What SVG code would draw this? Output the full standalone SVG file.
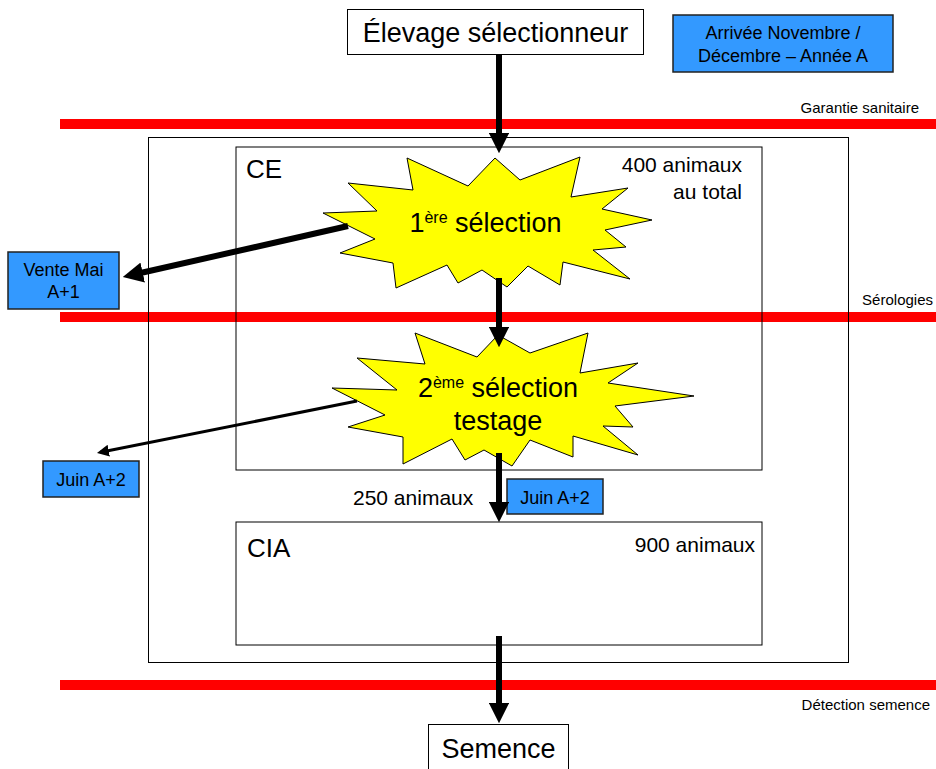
<svg xmlns="http://www.w3.org/2000/svg" width="936" height="769" viewBox="0 0 936 769">
<style>
text{font-family:"Liberation Sans",Arial,sans-serif;fill:#000}
.red{stroke:#FF0000;stroke-width:10}
.frame{fill:none;stroke:#000;stroke-width:1}
.white{fill:#fff;stroke:#000;stroke-width:1}
.blue{fill:#3399FF;stroke:#222;stroke-width:1.5}
.star{fill:#FFFF00;stroke:#000;stroke-width:1}
.thick{stroke:#000;stroke-width:6;fill:none;marker-end:url(#ah)}
.thin{stroke:#000;stroke-width:3;fill:none;marker-end:url(#ahs)}
.big{font-size:27px}
.mid{font-size:21px}
.sm{font-size:18px}
.tiny{font-size:15px}
</style>
<defs>
<marker id="ah" viewBox="0 0 10 10" markerWidth="3.4" markerHeight="3.4" refX="5" refY="5" orient="auto"><path d="M0,0 L10,5 L0,10 z" fill="#000"/></marker>
<marker id="ahs" viewBox="0 0 10 10" markerWidth="4" markerHeight="4" refX="7" refY="5" orient="auto"><path d="M0,0 L10,5 L0,10 z" fill="#000"/></marker>
</defs>
<rect width="936" height="769" fill="#fff"/>

<g id="barriers">
<line class="red" x1="60" y1="124" x2="936" y2="124"/>
<line class="red" x1="60" y1="317" x2="936" y2="317"/>
<line class="red" x1="60" y1="685" x2="936" y2="685"/>
<text class="tiny" x="919" y="113" text-anchor="end">Garantie sanitaire</text>
<text class="tiny" x="933" y="305" text-anchor="end">Sérologies</text>
<text class="tiny" x="930" y="710" text-anchor="end">Détection semence</text>
</g>

<g id="outer">
<rect class="frame" x="148.5" y="137.5" width="700" height="525"/>
</g>

<g id="CE">
<rect class="frame" x="236" y="147" width="526" height="323"/>
<text x="246" y="178" style="font-size:26px">CE</text>
<text class="mid" x="742" y="172" text-anchor="end">400 animaux</text>
<text class="mid" x="742" y="199" text-anchor="end">au total</text>
</g>

<g id="CIA">
<rect class="frame" x="236" y="522" width="526" height="123"/>
<text x="247" y="557" style="font-size:26px">CIA</text>
<text class="mid" x="755" y="552" text-anchor="end">900 animaux</text>
</g>

<g id="elevage">
<rect class="white" x="347.5" y="9.5" width="296" height="45"/>
<text class="big" x="495.5" y="42" text-anchor="middle">Élevage sélectionneur</text>
</g>

<g id="arrivee">
<rect class="blue" x="673" y="15" width="220" height="57"/>
<text class="sm" x="783" y="39" text-anchor="middle">Arrivée Novembre /</text>
<text class="sm" x="783" y="62" text-anchor="middle">Décembre – Année A</text>
</g>

<g id="selection1">
<polygon class="star" points="495,158 520,180 580,157 571,197 628,188 602,209 652,220 605,230 626,247 593,250 630,279 563,262 560,285 528,266 507,287 482,270 458,283 447,265 396,288 393,263 340,253 375,239 323,213 377,211 348,183 413,190 407,158 468,186"/>
<text class="big" x="485.5" y="232" text-anchor="middle">1<tspan style="font-size:16px" dy="-9">ère</tspan><tspan dy="9"> sélection</tspan></text>
</g>

<g id="selection2">
<polygon class="star" points="498,335 530,353 588,333 580,373 638,363 608,383 694,396 615,406 633,427 603,426 638,455 573,436 573,457 530,440 512,466 484,450 465,460 452,439 403,464 403,437 348,427 385,415 332,388 397,390 357,358 425,364 415,333 477,357"/>
<text class="big" x="498" y="397" text-anchor="middle">2<tspan style="font-size:16px" dy="-9">ème</tspan><tspan dy="9"> sélection</tspan></text>
<text class="big" x="498" y="430" text-anchor="middle">testage</text>
</g>

<g id="vente">
<rect class="blue" x="8" y="252" width="111" height="57"/>
<text class="sm" x="63.5" y="276" text-anchor="middle">Vente Mai</text>
<text class="sm" x="63.5" y="298" text-anchor="middle">A+1</text>
</g>

<g id="juin1">
<rect class="blue" x="43" y="461" width="96" height="36"/>
<text class="sm" x="91" y="486" text-anchor="middle">Juin A+2</text>
</g>

<g id="juin2">
<rect class="blue" x="507" y="479" width="96" height="35"/>
<text class="sm" x="555" y="504" text-anchor="middle">Juin A+2</text>
</g>

<g id="label250">
<text class="mid" x="353" y="505">250 animaux</text>
</g>

<g id="semence">
<rect class="white" x="428.5" y="724.5" width="140" height="50"/>
<text class="big" x="498.5" y="758" text-anchor="middle">Semence</text>
</g>

<g id="connectors">
<line class="thick" x1="499" y1="54" x2="499" y2="143"/>
<line class="thick" x1="499" y1="278" x2="499" y2="337"/>
<line class="thick" x1="499" y1="453" x2="499" y2="512"/>
<line class="thick" x1="499" y1="636" x2="499" y2="713"/>
<line class="thick" x1="348" y1="226" x2="132.75" y2="274.8"/>
<line class="thin" x1="357" y1="401" x2="100.5" y2="452.3"/>
</g>
</svg>
